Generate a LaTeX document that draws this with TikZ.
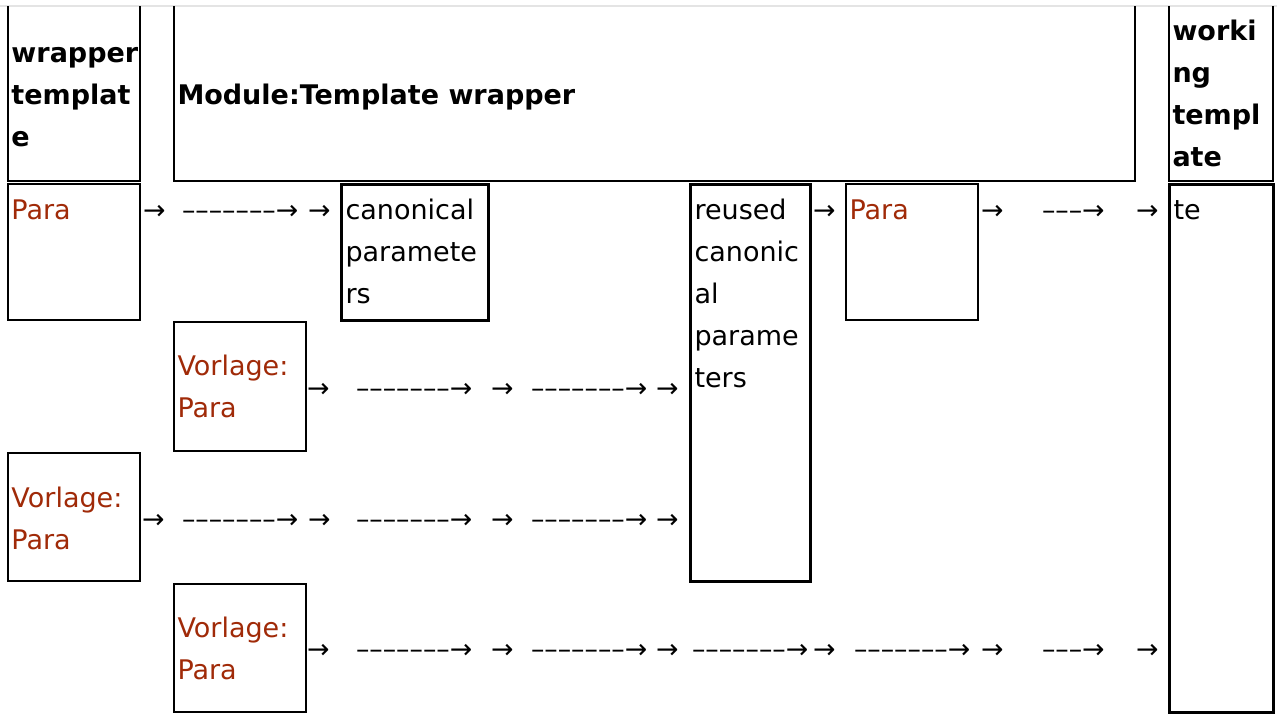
\documentclass[tikz,border=0pt]{standalone}
\usepackage{fontspec}
\setmainfont{DejaVu Sans}
\definecolor{linkc}{RGB}{160,42,8}
\definecolor{topgray}{RGB}{228,228,228}
\begin{document}
\begin{tikzpicture}[x=1pt,y=-1pt,
  every node/.style={inner sep=0pt,outer sep=0pt},
  cell/.style={anchor=north west},
  thinbox/.style={cell,draw=black,line width=1.6pt},
  thickbox/.style={cell,draw=black,line width=3pt},
  txt/.style={anchor=base west,font=\fontsize{27}{42}\selectfont,align=left},
  hdr/.style={txt,font=\fontsize{27}{42}\selectfont\bfseries},
  lnk/.style={txt,text=linkc},
  arr/.style={anchor=base west,font=\fontsize{26.8}{42}\selectfont}]
\useasboundingbox (0,0) rectangle (1277,713);
\fill[white] (0,0) rectangle (1277,713);
% top gray rule
\coordinate (tl) at (0,6);
\coordinate (tr) at (1277,6);
\draw[topgray,line width=1.5pt] (tl) -- (tr);
% header cells (open at top)
\node[cell,minimum width=132pt,minimum height=175pt] (hwrap) at (8,6) {};
\node[cell,minimum width=961pt,minimum height=175pt] (hmod) at (174,6) {};
\node[cell,minimum width=104pt,minimum height=175pt] (hwork) at (1169,6) {};
\foreach \h in {hwrap,hmod,hwork}
  \draw[line width=1.6pt] (\h.north west) -- (\h.south west) -- (\h.south east) -- (\h.north east);
% (anchor base = baseline of the last line)
\node[hdr] (twrap) at (11.5,146) {wrapper\\templat\\e};
\node[hdr] (tmod) at (177.5,104) {Module:Template wrapper};
\node[hdr] (twork) at (1172.5,166.5) {worki\\ng\\templ\\ate};
% body cells
\node[thinbox,minimum width=132pt,minimum height=136pt] (para1) at (8,184) {};
\node[thickbox,minimum width=147pt,minimum height=136pt] (canon) at (341,184) {};
\node[thickbox,minimum width=120pt,minimum height=397pt] (reused) at (690,184) {};
\node[thinbox,minimum width=132pt,minimum height=136pt] (para2) at (846,184) {};
\node[thickbox,minimum width=104pt,minimum height=528pt] (work) at (1169,184) {};
\node[thinbox,minimum width=132pt,minimum height=129pt] (vor1) at (174,322) {};
\node[thinbox,minimum width=132pt,minimum height=128pt] (vor2) at (8,453) {};
\node[thinbox,minimum width=132pt,minimum height=128pt] (vor3) at (174,584) {};
% cell texts
\node[lnk] (tpara1) at (11.5,219.5) {Para};
\node[txt] (tcanon) at (345.5,303) {canonical\\paramete\\rs};
\node[txt] (treused) at (694.5,387) {reused\\canonic\\al\\parame\\ters};
\node[lnk] (tpara2) at (849.5,219.5) {Para};
\node[txt] (twk) at (1173.5,219) {te};
\node[lnk] (tvor1) at (177.5,417.5) {Vorlage:\\Para};
\node[lnk] (tvor2) at (11.5,549.5) {Vorlage:\\Para};
\node[lnk] (tvor3) at (177.5,679.5) {Vorlage:\\Para};
% arrow texts, row 1
\node[arr] (r1a) at (143,219) {→};
\node[arr] (r1b) at (182,219) {–––––––→};
\node[arr] (r1c) at (308,219) {→};
\node[arr] (r1d) at (813,219) {→};
\node[arr] (r1e) at (981,219) {→};
\node[arr] (r1f) at (1042,219) {–––→};
\node[arr] (r1g) at (1136,219) {→};
% row 2
\node[arr] (r2a) at (307,397) {→};
\node[arr] (r2b) at (356,397) {–––––––→};
\node[arr] (r2c) at (491,397) {→};
\node[arr] (r2d) at (531,397) {–––––––→};
\node[arr] (r2e) at (656,397) {→};
% row 3
\node[arr] (r3a) at (142,528) {→};
\node[arr] (r3b) at (182,528) {–––––––→};
\node[arr] (r3c) at (308,528) {→};
\node[arr] (r3d) at (356,528) {–––––––→};
\node[arr] (r3e) at (491,528) {→};
\node[arr] (r3f) at (531,528) {–––––––→};
\node[arr] (r3g) at (656,528) {→};
% row 4
\node[arr] (r4a) at (307,658) {→};
\node[arr] (r4b) at (356,658) {–––––––→};
\node[arr] (r4c) at (491,658) {→};
\node[arr] (r4d) at (531,658) {–––––––→};
\node[arr] (r4e) at (656,658) {→};
\node[arr] (r4f) at (692,658) {–––––––→};
\node[arr] (r4g) at (813,658) {→};
\node[arr] (r4h) at (854,658) {–––––––→};
\node[arr] (r4i) at (981,658) {→};
\node[arr] (r4j) at (1042,658) {–––→};
\node[arr] (r4k) at (1136,658) {→};
\end{tikzpicture}
\end{document}
